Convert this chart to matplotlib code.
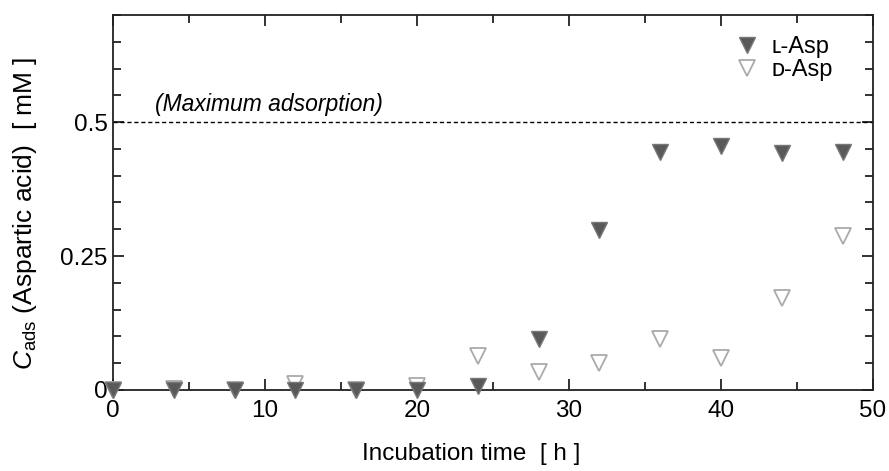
import matplotlib
matplotlib.use("Agg")
import matplotlib.pyplot as plt
from matplotlib.ticker import MultipleLocator, FixedLocator
from matplotlib.lines import Line2D

plt.rcParams['font.family'] = ['Liberation Sans', 'DejaVu Sans']
plt.rcParams['mathtext.fontset'] = 'custom'
plt.rcParams['mathtext.rm'] = 'Liberation Sans'
plt.rcParams['mathtext.it'] = 'Liberation Sans:italic'

# Data
time_h = [0, 4, 8, 12, 16, 20, 24, 28, 32, 36, 40, 44, 48]
l_asp = [0.0, 0.0, 0.0, 0.0, 0.0, 0.0, 0.008, 0.095, 0.298, 0.444, 0.455, 0.443, 0.444]
d_asp = [0.0, 0.002, 0.0, 0.012, 0.0, 0.008, 0.063, 0.033, 0.050, 0.095, 0.060, 0.171, 0.287]
max_ads = 0.5
series_labels = ['\u029f-Asp', '\u1d05-Asp']
y_ticks = [0, 0.25, 0.5]
y_ticklabels = ['0', '0.25', '0.5']

fig = plt.figure(figsize=(8.89, 4.71), dpi=100)
ax = fig.add_axes([113/889, 1-390/471, 760/889, 375/471])

dark = '#595959'
light = '#aaaaaa'

ax.plot(time_h, d_asp, linestyle='none', marker='v', markersize=11.5,
        markerfacecolor='white', markeredgecolor=light, markeredgewidth=1.3,
        clip_on=False, zorder=3)
ax.plot(time_h, l_asp, linestyle='none', marker='v', markersize=11.5,
        markerfacecolor=dark, markeredgecolor='#777777', markeredgewidth=1.0,
        clip_on=False, zorder=4)

ax.axhline(max_ads, color='black', linestyle=(0, (3, 2)), linewidth=1.0, zorder=2)
ax.text(2.75, 0.512, '(Maximum adsorption)', style='italic', fontsize=16.5,
        ha='left', va='bottom')

ax.set_xlim(0, 50)
ax.set_ylim(0, 0.7)
ax.xaxis.set_major_locator(MultipleLocator(10))
ax.xaxis.set_minor_locator(MultipleLocator(5))
ax.yaxis.set_major_locator(FixedLocator(y_ticks))
ax.set_yticklabels(y_ticklabels)
ax.yaxis.set_minor_locator(MultipleLocator(0.05))

ax.tick_params(which='both', direction='in', top=True, right=True,
               width=1.3, colors='#222222', labelsize=17.5, labelcolor='black')
ax.tick_params(which='major', length=8)
ax.tick_params(which='minor', length=5.5)
ax.tick_params(axis='x', which='major', pad=7)
ax.tick_params(axis='y', which='major', pad=4)
for sp in ax.spines.values():
    sp.set_linewidth(1.3)
    sp.set_color('#222222')

ax.set_xlabel('Incubation time  [ h ]', fontsize=17.5)
ax.xaxis.set_label_coords(0.471, -0.142)
ax.set_ylabel(r'$C_{\mathrm{ads}}$ (Aspartic acid)  [ mM ]', fontsize=19)
ax.yaxis.set_label_coords(-0.097, 0.47)

handles = [
    Line2D([], [], linestyle='none', marker='v', markersize=11.5,
           markerfacecolor=dark, markeredgecolor='#777777', markeredgewidth=1.0),
    Line2D([], [], linestyle='none', marker='v', markersize=11.5,
           markerfacecolor='white', markeredgecolor=light, markeredgewidth=1.3),
]
ax.legend(handles, series_labels, loc='upper right', frameon=False,
          fontsize=17, handlelength=1.0, handletextpad=0.55, labelspacing=0.05,
          bbox_to_anchor=(0.975, 1.0))

fig.savefig('out.png', dpi=100)
